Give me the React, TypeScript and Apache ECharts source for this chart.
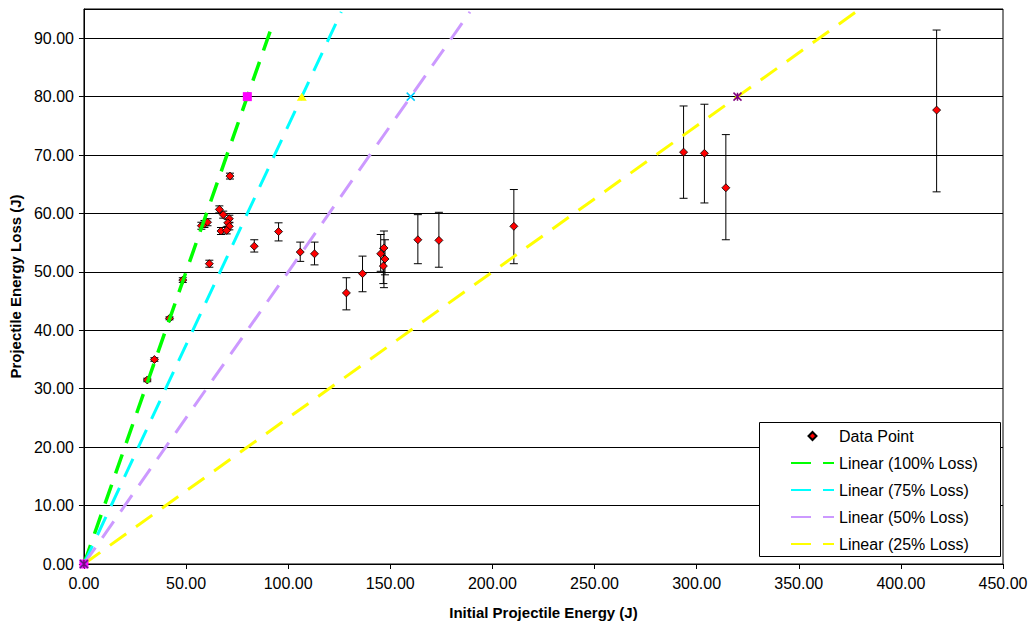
import React, { useEffect, useRef } from "react";
import * as echarts from "echarts";

// ---- data ----
const energyIn = [31.0, 34.5, 41.9, 48.4, 57.5, 59.0, 60.5, 61.4, 66.3, 68.2, 71.2, 70.4, 71.2, 67.1, 69.9, 71.5, 83.4, 95.3, 105.9, 112.9, 128.5, 136.4, 145.3, 146.9, 147.4, 146.6, 163.5, 173.8, 210.5, 293.6, 303.8, 314.3, 417.5];
const energyLoss = [31.5, 35.0, 42.05, 48.6, 57.9, 58.2, 58.5, 51.4, 60.7, 59.8, 59.1, 58.4, 57.8, 57.0, 57.1, 66.4, 54.4, 56.9, 53.4, 53.1, 46.4, 49.7, 53.1, 54.1, 52.2, 51.0, 55.5, 55.4, 57.8, 70.5, 70.3, 64.4, 77.7];
const lossLow = [31.2, 34.7, 41.8, 48.2, 57.3, 57.6, 57.9, 50.8, 60.1, 59.2, 58.5, 57.8, 57.2, 56.4, 56.5, 65.9, 53.4, 55.3, 51.8, 51.2, 43.5, 46.6, 50.1, 47.3, 49.5, 48.0, 51.4, 50.8, 51.4, 62.6, 61.8, 55.5, 63.7];
const lossHigh = [31.8, 35.3, 42.3, 49.0, 58.5, 58.8, 59.1, 52.0, 61.3, 60.4, 59.7, 59.0, 58.4, 57.6, 57.7, 66.9, 55.5, 58.4, 55.1, 55.1, 49.0, 52.7, 56.4, 57.0, 55.5, 54.0, 59.8, 60.2, 64.1, 78.4, 78.7, 73.5, 91.4];

const refNames = ["100% Loss", "75% Loss", "50% Loss", "25% Loss"];
const refStartX = [0, 0, 0, 0];
const refStartY = [0, 0, 0, 0];
const refEndX = [80, 106.67, 160, 320];
const refEndY = [80, 80, 80, 80];
const trendEndX = [93, 126, 189, 380];
const trendEndY = [93, 94.5, 94.5, 95];

// ---- styles ----
const lineColors = ["#00FF00", "#00FFFF", "#CC99FF", "#FFFF00"];
const lineWidths = [3.5, 3, 3, 3];
const markerSymbols = [
  "rect",
  "triangle",
  "path://M0,0L10,10M10,0L0,10",
  "path://M0,0L10,10M10,0L0,10M5,0L5,10",
];
const markerStyles = [
  { color: "#FF00FF" },
  { color: "#FFFF00" },
  { color: "none", borderColor: "#00CCFF", borderWidth: 1.5 },
  { color: "none", borderColor: "#800080", borderWidth: 1.5 },
];
const markerSizes = [9, [10, 8], 8, 8];
const markerZ = [6, 5, 7, 7];

const FONT = "'Liberation Sans', Arial, sans-serif";

export default function App() {
  const ref = useRef<HTMLDivElement>(null);

  useEffect(() => {
    if (!ref.current) return;
    const chart = echarts.init(ref.current, undefined, { renderer: "svg" });

    const errData = energyIn.map((x, i) => [x, lossLow[i], lossHigh[i]]);
    const pointData = energyIn.map((x, i) => [x, energyLoss[i]]);

    const series: any[] = [];
    series.push({
      type: "custom",
      name: "errors",
      z: 2,
      encode: { x: 0, y: [1, 2] },
      data: errData,
      renderItem: (params: any, api: any) => {
        const x = api.value(0);
        const lo = api.coord([x, api.value(1)]);
        const hi = api.coord([x, api.value(2)]);
        const hw = 4;
        const st = { stroke: "#000", lineWidth: 1 };
        return {
          type: "group",
          children: [
            { type: "line", shape: { x1: hi[0], y1: hi[1], x2: lo[0], y2: lo[1] }, style: st },
            { type: "line", shape: { x1: hi[0] - hw, y1: hi[1], x2: hi[0] + hw, y2: hi[1] }, style: st },
            { type: "line", shape: { x1: lo[0] - hw, y1: lo[1], x2: lo[0] + hw, y2: lo[1] }, style: st },
          ],
        };
      },
    });
    series.push({
      type: "scatter",
      name: "Data Point",
      z: 3,
      symbol: "diamond",
      symbolSize: 8,
      itemStyle: { color: "#FF0000", borderColor: "#000", borderWidth: 0.8, opacity: 1 },
      data: pointData,
    });
    refNames.forEach((n, i) => {
      series.push({
        type: "line",
        name: "Linear (" + n + ")",
        z: 4,
        symbol: "none",
        silent: true,
        lineStyle: { color: lineColors[i], width: lineWidths[i], type: [20, 12] },
        itemStyle: { color: lineColors[i] },
        data: [
          [refStartX[i], refStartY[i]],
          [trendEndX[i], trendEndY[i]],
        ],
      });
    });
    refNames.forEach((n, i) => {
      series.push({
        type: "scatter",
        name: n,
        z: markerZ[i],
        clip: false,
        symbol: markerSymbols[i],
        symbolSize: markerSizes[i],
        itemStyle: { ...markerStyles[i], opacity: 1 },
        data: [
          [refStartX[i], refStartY[i]],
          [refEndX[i], refEndY[i]],
        ],
      });
    });

    const lineLegend = refNames.map((n) => ({
      name: "Linear (" + n + ")",
      itemStyle: { opacity: 0 },
    }));

    chart.setOption({
      animation: false,
      textStyle: { fontFamily: FONT },
      grid: {
        left: 83,
        right: 28,
        top: 9,
        bottom: 61,
        show: true,
        borderColor: "#000",
        borderWidth: 1,
        backgroundColor: "#fff",
      },
      xAxis: {
        type: "value",
        min: 0,
        max: 450,
        interval: 50,
        name: "Initial Projectile Energy (J)",
        nameLocation: "middle",
        nameGap: 41,
        nameTextStyle: { fontFamily: FONT, fontSize: 15, fontWeight: "bold", color: "#000" },
        axisLine: { show: true, onZero: false, lineStyle: { color: "#000", width: 1 } },
        axisTick: { show: true, inside: false, length: 5, lineStyle: { color: "#000" } },
        axisLabel: {
          fontFamily: FONT,
          fontSize: 16,
          color: "#000",
          margin: 11,
          formatter: (v: number) => v.toFixed(2),
        },
        splitLine: { show: false },
      },
      yAxis: {
        type: "value",
        min: 0,
        max: 95,
        interval: 10,
        name: "Projectile Energy Loss (J)",
        nameLocation: "middle",
        nameGap: 58,
        nameTextStyle: { fontFamily: FONT, fontSize: 15, fontWeight: "bold", color: "#000" },
        axisLine: { show: true, lineStyle: { color: "#000", width: 1 } },
        axisTick: { show: true, inside: false, length: 5, lineStyle: { color: "#000" } },
        axisLabel: {
          fontFamily: FONT,
          fontSize: 16,
          color: "#000",
          margin: 10,
          showMaxLabel: false,
          formatter: (v: number) => v.toFixed(2),
        },
        splitLine: { show: true, lineStyle: { color: "#000", width: 1 } },
      },
      legend: {
        orient: "vertical",
        left: 790,
        top: 428,
        z: 60,
        itemWidth: 43,
        itemHeight: 8,
        itemGap: 11,
        padding: 0,
        selectedMode: false,
        symbolKeepAspect: true,
        textStyle: { fontFamily: FONT, fontSize: 16, color: "#000", lineHeight: 16 },
        data: [
          { name: "Data Point", icon: "path://M5,0L10,5L5,10L0,5Z" },
          ...lineLegend,
        ],
      },
      graphic: [
        {
          type: "rect",
          z: 50,
          shape: { x: 759.5, y: 422.5, width: 241, height: 134 },
          style: { fill: "#fff", stroke: "#000", lineWidth: 1 },
        },
      ],
      series,
    });

    return () => chart.dispose();
  }, []);

  return (
    <div
      ref={ref}
      style={{ position: "absolute", left: 0, top: 0, width: 1031, height: 625, background: "#fff" }}
    />
  );
}
